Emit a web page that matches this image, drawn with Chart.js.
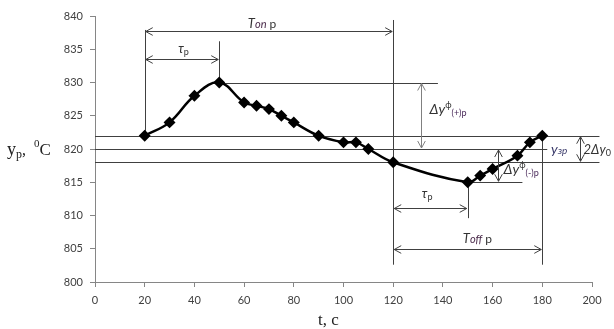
<!DOCTYPE html>
<html>
<head>
<meta charset="utf-8">
<script src="https://cdn.jsdelivr.net/npm/chart.js@4/dist/chart.umd.min.js"></script>
<style>
  body { margin: 0; background: #fff; }
  #wrap { width: 614px; height: 329px; }
</style>
</head>
<body>
<div id="wrap"><canvas id="grafico"></canvas></div>
<script>
// data
const tempo = [20, 30, 40, 50, 60, 65, 70, 75, 80, 90, 100, 105, 110, 120, 150, 155, 160, 170, 175, 180];
const temperatura = [822, 824, 828, 830, 827, 826.5, 826, 825, 824, 822, 821, 821, 820, 818, 815, 816, 817, 819, 821, 822];
const xTicks = [0, 20, 40, 60, 80, 100, 120, 140, 160, 180, 200];
const yTicks = [800, 805, 810, 815, 820, 825, 830, 835, 840];

// guide lines in axis units
const linhasH = [[822, 0, 203], [820, 0, 182], [818, 0, 203], [830, 50, 138], [815, 150, 172]];
const linhasV = [[20, 822, 837.9], [50, 830, 836.2], [120, 802.6, 839.4], [150, 809.6, 815], [180, 802.6, 822]];
const setasH = [[837.7, 20, 120], [833.6, 20, 50], [811.1, 120, 150], [805, 120, 180]];
const setasV = [[131, 820, 830, '#808080'], [162, 815, 820, '#404040'], [195, 818, 822, '#404040']];

const fonte = 'Lato, "Open Sans", sans-serif';

function desenhaTexto(ctx, x, y, partes) {
  let px = x;
  partes.forEach(p => {
    const tam = p.s || 13;
    ctx.font = (p.i ? 'italic ' : '') + tam + 'px ' + (p.f || fonte);
    ctx.fillStyle = p.c || '#333';
    ctx.textBaseline = 'alphabetic';
    ctx.textAlign = 'left';
    ctx.fillText(p.t, px, y + (p.dy || 0));
    px += ctx.measureText(p.t).width;
  });
}

function seta(ctx, x0, y0, x1, y1) {
  const ang = Math.atan2(y1 - y0, x1 - x0);
  const L = 8, W = 0.5;
  [[x0, y0, ang + Math.PI], [x1, y1, ang]].forEach(([x, y, a]) => {
    ctx.beginPath();
    ctx.moveTo(x - L * Math.cos(a - W), y - L * Math.sin(a - W));
    ctx.lineTo(x, y);
    ctx.lineTo(x - L * Math.cos(a + W), y - L * Math.sin(a + W));
    ctx.stroke();
  });
  ctx.beginPath();
  ctx.moveTo(x0, y0);
  ctx.lineTo(x1, y1);
  ctx.stroke();
}

const guias = {
  id: 'guias',
  beforeDatasetsDraw(chart) {
    const ctx = chart.ctx, sx = chart.scales.x, sy = chart.scales.y;
    ctx.save();
    ctx.strokeStyle = '#404040';
    ctx.lineWidth = 1;
    linhasH.forEach(([y, a, b]) => {
      const py = Math.round(sy.getPixelForValue(y)) + 0.5;
      ctx.beginPath();
      ctx.moveTo(sx.getPixelForValue(a), py);
      ctx.lineTo(sx.getPixelForValue(b), py);
      ctx.stroke();
    });
    linhasV.forEach(([x, a, b]) => {
      const px = Math.round(sx.getPixelForValue(x)) + 0.5;
      ctx.beginPath();
      ctx.moveTo(px, sy.getPixelForValue(a));
      ctx.lineTo(px, sy.getPixelForValue(b));
      ctx.stroke();
    });
    ctx.restore();
  },
  afterDatasetsDraw(chart) {
    const ctx = chart.ctx, sx = chart.scales.x, sy = chart.scales.y;
    ctx.save();
    ctx.lineWidth = 1;
    ctx.strokeStyle = '#404040';
    setasH.forEach(([y, a, b]) => {
      const py = Math.round(sy.getPixelForValue(y)) + 0.5;
      seta(ctx, sx.getPixelForValue(a) + 1, py, sx.getPixelForValue(b) - 1, py);
    });
    setasV.forEach(([x, a, b, cor]) => {
      ctx.strokeStyle = cor;
      const px = Math.round(sx.getPixelForValue(x)) + 0.5;
      seta(ctx, px, sy.getPixelForValue(a) - 1, px, sy.getPixelForValue(b) + 1);
    });

    const P = (x, y) => [sx.getPixelForValue(x), sy.getPixelForValue(y)];
    let [x, y] = P(61.5, 838.2);
    desenhaTexto(ctx, x, y, [{ t: 'T', i: true, s: 13 }, { t: 'on', i: true, s: 11, c: '#4a2a4a' }, { t: ' p', s: 12 }]);
    [x, y] = P(33.5, 834.4);
    desenhaTexto(ctx, x, y, [{ t: 'τ', i: true, s: 13 }, { t: 'p', s: 9, dy: 2 }]);
    [x, y] = P(131.5, 812.6);
    desenhaTexto(ctx, x, y, [{ t: 'τ', i: true, s: 13 }, { t: 'p', s: 9, dy: 2 }]);
    [x, y] = P(148, 805.8);
    desenhaTexto(ctx, x, y, [{ t: 'T', i: true, s: 13 }, { t: 'off', i: true, s: 11, c: '#4a2a4a' }, { t: ' p', s: 12 }]);
    [x, y] = P(134.6, 825.3);
    desenhaTexto(ctx, x, y, [{ t: 'Δy', i: true, s: 14 }, { t: 'ф', s: 9, dy: -6 }, { t: '(+)p', s: 9, dy: 2, c: '#4a2a5a' }]);
    [x, y] = P(164.4, 816.2);
    desenhaTexto(ctx, x, y, [{ t: 'Δy', i: true, s: 14 }, { t: 'ф', s: 9, dy: -6 }, { t: '(-)p', s: 9, dy: 2, c: '#4a2a5a' }]);
    [x, y] = P(183.5, 819.3);
    desenhaTexto(ctx, x, y, [{ t: 'y', i: true, s: 14, c: '#3a3a6a' }, { t: 'зр', i: true, s: 10, c: '#3a3a6a' }]);
    [x, y] = P(196.6, 819.3);
    desenhaTexto(ctx, x, y, [{ t: '2Δy', i: true, s: 13 }, { t: '0', s: 9, dy: 2 }]);

    // axis titles
    const serif = '"Liberation Serif", "DejaVu Serif", serif';
    desenhaTexto(ctx, 7, 155, [
      { t: 'y', s: 18, f: serif, c: '#222' }, { t: 'p', s: 12, f: serif, dy: 3, c: '#222' },
      { t: ',  ', s: 16, f: serif, c: '#222' }, { t: '0', s: 11, f: serif, dy: -8, c: '#222' },
      { t: 'C', s: 17, f: serif, c: '#222' }
    ]);
    desenhaTexto(ctx, 318, 325, [{ t: 't, c', s: 17, f: serif, c: '#222' }]);
    ctx.restore();
  }
};

const ctxGrafico = document.getElementById('grafico').getContext('2d');
new Chart(ctxGrafico, {
  type: 'line',
  data: {
    datasets: [{
      data: tempo.map((t, i) => ({ x: t, y: temperatura[i] })),
      borderColor: '#000',
      backgroundColor: '#000',
      borderWidth: 2.5,
      tension: 0.4,
      pointStyle: 'rectRot',
      pointRadius: 4.2,
      pointHoverRadius: 4.2,
      clip: false
    }]
  },
  options: {
    responsive: true,
    maintainAspectRatio: false,
    animation: false,
    events: [],
    layout: { padding: { top: 16, right: 22, left: 0, bottom: 0 } },
    plugins: { legend: { display: false }, tooltip: { enabled: false } },
    scales: {
      x: {
        type: 'linear',
        min: 0,
        max: 200,
        afterBuildTicks: s => { s.ticks = xTicks.map(v => ({ value: v })); },
        afterFit: s => { s.height = 47; },
        ticks: { color: '#404040', padding: 7, font: { family: fonte, size: 11 } },
        grid: { drawOnChartArea: false, color: '#868686', tickLength: 5 },
        border: { color: '#868686' }
      },
      y: {
        min: 800,
        max: 840,
        afterBuildTicks: s => { s.ticks = yTicks.map(v => ({ value: v })); },
        afterFit: s => { s.width = 95; },
        ticks: { color: '#404040', padding: 7, font: { family: fonte, size: 11 } },
        grid: { drawOnChartArea: false, color: '#868686', tickLength: 5 },
        border: { color: '#868686' }
      }
    }
  },
  plugins: [guias]
});
</script>
</body>
</html>
